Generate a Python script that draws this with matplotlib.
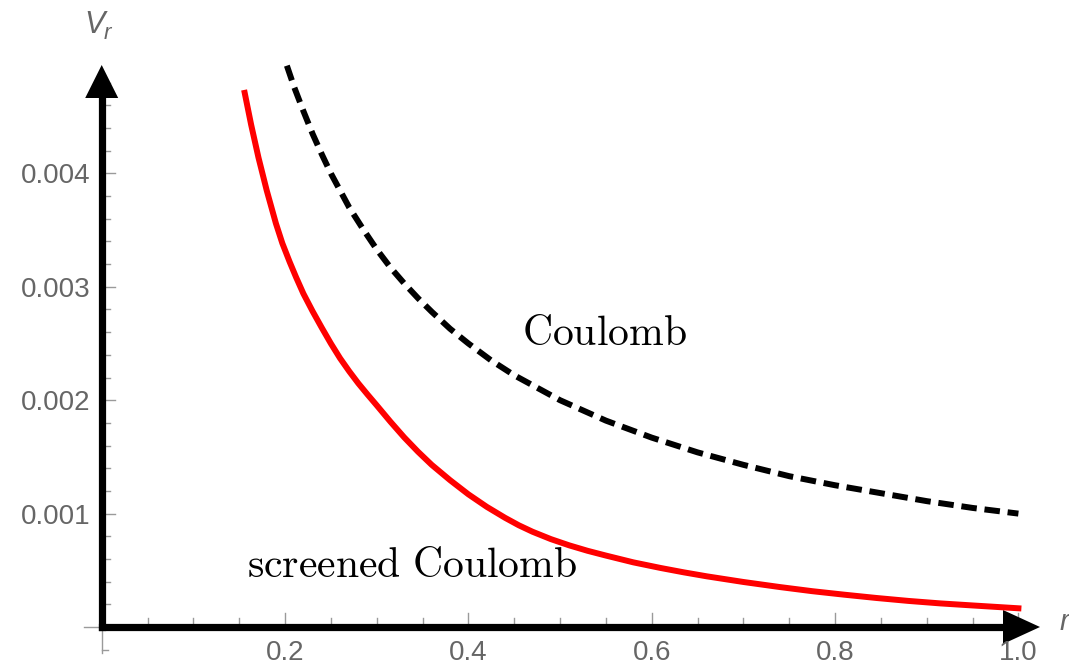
import matplotlib.pyplot as plt
import numpy as np

# values, V in units of 1e-3
r_coul = [0.202, 0.21, 0.22, 0.23, 0.24, 0.25, 0.26, 0.27, 0.285, 0.30, 0.315,
          0.33, 0.345, 0.36, 0.38, 0.40, 0.425, 0.45, 0.475, 0.50, 0.55, 0.60,
          0.65, 0.70, 0.75, 0.80, 0.85, 0.90, 0.95, 1.00]
v_coul = [4.95, 4.76, 4.55, 4.35, 4.17, 4.00, 3.85, 3.70, 3.51, 3.33, 3.17,
          3.03, 2.90, 2.78, 2.63, 2.50, 2.35, 2.22, 2.11, 2.00, 1.82, 1.67,
          1.54, 1.43, 1.33, 1.25, 1.18, 1.11, 1.05, 1.00]

r_scr = [0.156, 0.163, 0.171, 0.18, 0.19, 0.197, 0.205, 0.212, 0.22, 0.23,
         0.24, 0.25, 0.26, 0.27, 0.28, 0.29, 0.30, 0.315, 0.33, 0.345, 0.36,
         0.38, 0.40, 0.42, 0.44, 0.455, 0.47, 0.49, 0.51, 0.53, 0.55, 0.58,
         0.61, 0.635, 0.66, 0.70, 0.74, 0.775, 0.81, 0.845, 0.88, 0.915, 0.95,
         1.00]
v_scr = [4.71, 4.43, 4.14, 3.85, 3.56, 3.385, 3.22, 3.085, 2.94, 2.785,
         2.64, 2.50, 2.37, 2.255, 2.148, 2.05, 1.955, 1.81, 1.672, 1.546, 1.43,
         1.295, 1.17, 1.06, 0.963, 0.897, 0.84, 0.775, 0.72, 0.672, 0.63, 0.57,
         0.52, 0.482, 0.447, 0.397, 0.352, 0.316, 0.285, 0.256, 0.23, 0.208,
         0.19, 0.165]

x_major = [0.2, 0.4, 0.6, 0.8, 1.0]
x_labels = ['0.2', '0.4', '0.6', '0.8', '1.0']
y_major = [0.001, 0.002, 0.003, 0.004]
y_labels = ['0.001', '0.002', '0.003', '0.004']

GRAY = '#666666'
TICK = '#9a9a9a'

# pixel sizes in data units (axes fill the whole figure)
PX = 1 / 916.7
PY = 0.001 / 113.4

fig = plt.figure(figsize=(10.69, 6.64), dpi=100)
ax = fig.add_axes([0, 0, 1, 1])
ax.set_xlim(-101.7 * PX, (1069 - 101.7) * PX)
ax.set_ylim(-(664 - 627) * PY, 627 * PY)
ax.axis('off')

# thin grey axis stubs at the origin
ax.plot([-18 * PX, 0], [0, 0], color=TICK, lw=1)
ax.plot([0, 0], [0, -26 * PY], color=TICK, lw=1)
ax.plot([0, 6 * PX], [-0.0002, -0.0002], color=TICK, lw=1)

# ticks
for x in np.arange(0.05, 1.001, 0.05):
    major = any(abs(x - m) < 1e-6 for m in x_major)
    ax.plot([x, x], [0, (14 if major else 9) * PY], color=TICK, lw=1, zorder=1)
for y in np.arange(0.0002, 0.00481, 0.0002):
    major = any(abs(y - m) < 1e-9 for m in y_major)
    ax.plot([0, (13 if major else 8) * PX], [y, y], color=TICK, lw=1, zorder=1)

# thick black axes with arrow heads
ax.plot([0, 0.984], [0, 0], color='black', lw=5.2, solid_capstyle='projecting', zorder=2)
ax.plot([0, 0], [0, 0.00467], color='black', lw=5.2, solid_capstyle='projecting', zorder=2)
xt = (1040 - 101.7) * PX
ax.fill([xt, xt - 37 * PX, xt - 37 * PX], [0, 17 * PY, -17 * PY], color='black', lw=0, zorder=2)
yt = (627 - 65) * PY
ax.fill([0, -16.5 * PX, 16.5 * PX], [yt, yt - 33 * PY, yt - 33 * PY], color='black', lw=0, zorder=2)

# curves
ax.plot(r_coul, np.array(v_coul) * 1e-3, color='black', lw=4.3,
        linestyle=(0, (2.6, 1.3)), zorder=3)
ax.plot(r_scr, np.array(v_scr) * 1e-3, color='red', lw=4.3, zorder=3)

# tick labels
for x, lab in zip(x_major, x_labels):
    ax.text(x, -(660 - 627) * PY, lab, ha='center', va='baseline',
            fontsize=20, family='Liberation Sans', color=GRAY)
for y, lab in zip(y_major, y_labels):
    ax.text(-11 * PX, y - 10 * PY, lab, ha='right', va='baseline',
            fontsize=20, family='Liberation Sans', color=GRAY)

# axis labels
ax.text((84 - 101.7) * PX, (627 - 33) * PY, 'V', ha='left', va='baseline',
        fontsize=22, family='Liberation Sans', style='italic', color=GRAY)
ax.text((104 - 101.7) * PX, (627 - 39) * PY, 'r', ha='left', va='baseline',
        fontsize=16, family='Liberation Sans', style='italic', color=GRAY)
ax.text((1060 - 101.7) * PX, (627 - 630) * PY, 'r', ha='left', va='baseline',
        fontsize=21, family='Liberation Sans', style='italic', color=GRAY)

# curve labels
ax.text((522 - 101.7) * PX, (627 - 345) * PY, r'$\mathrm{Coulomb}$',
        ha='left', va='baseline', fontsize=30, math_fontfamily='cm')
ax.text((247 - 101.7) * PX, (627 - 577) * PY, r'$\mathrm{screened\ Coulomb}$',
        ha='left', va='baseline', fontsize=30, math_fontfamily='cm')

fig.savefig('out.png', dpi=100)
